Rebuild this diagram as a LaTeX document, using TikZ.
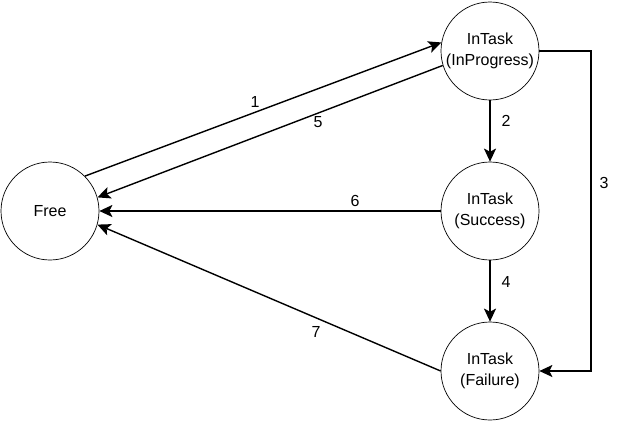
\documentclass[tikz,border=0pt]{standalone}
\usepackage{fontspec}
\setmainfont{Liberation Sans}
\usetikzlibrary{arrows.meta}
\begin{document}
\begin{tikzpicture}[x=1pt,y=-1pt,
  state/.style={circle,draw,line width=0.7pt,minimum size=98pt,inner sep=0pt,align=center,font=\fontsize{16}{21}\selectfont},
  edge/.style={line width=1.4pt,-{Stealth[length=13pt,width=12pt,inset=3pt]}},
  lbl/.style={font=\fontsize{16}{19}\selectfont,inner sep=0pt}]
\useasboundingbox (0,0) rectangle (621,421);
\node[state] (free) at (50,211) {Free};
\node[state] (prog) at (490,51) {InTask\\(InProgress)};
\node[state] (succ) at (490,211) {InTask\\(Success)};
\node[state] (fail) at (490,371) {InTask\\(Failure)};
\coordinate (c3) at (591,211);
\draw[edge] (free.45) -- (prog.170);
\draw[edge] (prog.197) -- (free.16);
\draw[edge] (prog.south) -- (succ.north);
\draw[edge] (succ.south) -- (fail.north);
\draw[edge] (succ.west) -- (free.east);
\draw[edge] (fail.west) -- (free.-16);
\draw[edge] (prog.east) -| (c3) |- (fail.east);
\node[lbl] (l1) at (255,102) {1};
\node[lbl] (l5) at (318,122) {5};
\node[lbl] (l2) at (506,121) {2};
\node[lbl] (l3) at (604,183) {3};
\node[lbl] (l4) at (506,282) {4};
\node[lbl] (l6) at (355,201) {6};
\node[lbl] (l7) at (316,332) {7};
\end{tikzpicture}
\end{document}
